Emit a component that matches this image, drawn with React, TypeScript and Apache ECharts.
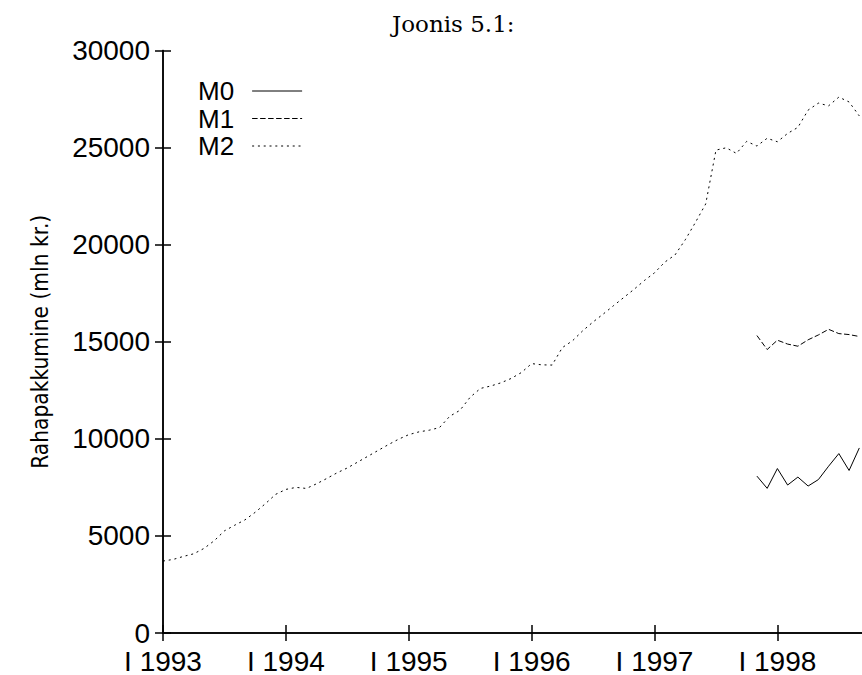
import React, { useEffect, useRef } from "react";
import * as echarts from "echarts";

// x: months since January 1993
const yearLabels = ["I 1993", "I 1994", "I 1995", "I 1996", "I 1997", "I 1998"];
const seriesNames = ["M0", "M1", "M2"];

const m2Start = 0;
const m2Values = [
  3705, 3790, 3945, 4080, 4355, 4750, 5260, 5550, 5825, 6215, 6660, 7140,
  7395, 7500, 7445, 7685, 7960, 8250, 8500, 8800, 9100, 9400, 9700, 9980,
  10215, 10360, 10445, 10580, 11160, 11470, 12145, 12595, 12720, 12885, 13110, 13415,
  13875, 13810, 13800, 14700, 15055, 15570, 16020, 16430, 16860, 17280, 17700, 18150,
  18550, 19100, 19470, 20250, 21150, 22100, 24870, 24990, 24700, 25320, 25080, 25480,
  25300, 25730, 26040, 26930, 27290, 27150, 27600, 27350, 26630,
];

const m1Start = 58;
const m1Values = [15320, 14600, 15080, 14880, 14770, 15100, 15350, 15640, 15420, 15370, 15270];

const m0Start = 58;
const m0Values = [8080, 7450, 8470, 7620, 8030, 7570, 7900, 8590, 9240, 8370, 9530];

const yTicks = [0, 5000, 10000, 15000, 20000, 25000, 30000];

const toPairs = (start: number, vals: number[]) => vals.map((v, i) => [start + i, v]);

const FONT = "Liberation Sans";
const NARROW = "'Liberation Sans Narrow', 'DejaVu Sans Condensed', 'Liberation Sans'";

export default function App() {
  const ref = useRef<HTMLDivElement>(null);
  useEffect(() => {
    if (!ref.current) return;
    const chart = echarts.init(ref.current, null, { renderer: "svg" });
    const axisLine = { show: true, lineStyle: { color: "#000", width: 1.5 } };
    const tick = { show: true, inside: true, length: 8, lineStyle: { color: "#000", width: 1.5 } };
    chart.setOption({
      animation: false,
      backgroundColor: "#fff",
      title: {
        text: "Joonis 5.1:",
        left: 387,
        top: 7,
        textStyle: { fontFamily: "DejaVu Serif", fontWeight: "normal", fontSize: 23, color: "#000" },
      },
      legend: {
        orient: "vertical",
        left: 193,
        top: 73,
        align: "right",
        itemWidth: 50,
        itemHeight: 14,
        itemGap: 1.5,
        selectedMode: false,
        data: seriesNames,
        itemStyle: { opacity: 0, borderWidth: 0 },
        lineStyle: { width: 1 },
        textStyle: { fontFamily: FONT, fontSize: 26, color: "#000", lineHeight: 26, padding: [0, 13, 0, 0] },
      },
      grid: { left: 163, right: 20.2, top: 50.5, bottom: 39, containLabel: false },
      xAxis: [
        {
          type: "value",
          position: "bottom",
          min: 0,
          max: 70,
          interval: 12,
          axisLine,
          axisTick: tick,
          splitLine: { show: false },
          axisLabel: {
            margin: 14,
            fontFamily: FONT,
            fontSize: 28,
            lineHeight: 28,
            color: "#000",
            formatter: (v: number) => (v % 12 === 0 ? yearLabels[v / 12] ?? "" : ""),
          },
        },
        {
          type: "value",
          position: "top",
          min: 0,
          max: 70,
          interval: 12,
          axisLine,
          axisTick: tick,
          splitLine: { show: false },
          axisLabel: { show: false },
        },
      ],
      yAxis: [
        {
          type: "value",
          min: yTicks[0],
          max: yTicks[yTicks.length - 1],
          interval: 5000,
          name: "Rahapakkumine (mln kr.)",
          nameLocation: "middle",
          nameGap: 112,
          nameTextStyle: { fontFamily: NARROW, fontSize: 22.5, color: "#000" },
          axisLine,
          axisTick: tick,
          splitLine: { show: false },
          axisLabel: {
            margin: 13,
            fontFamily: FONT,
            fontSize: 28,
            lineHeight: 16,
            color: "#000",
            formatter: (v: number) => String(v),
          },
        },
        {
          type: "value",
          position: "right",
          min: yTicks[0],
          max: yTicks[yTicks.length - 1],
          interval: 5000,
          axisLine,
          axisTick: tick,
          splitLine: { show: false },
          axisLabel: { show: false },
        },
      ],
      series: [
        {
          name: "M0",
          type: "line",
          data: toPairs(m0Start, m0Values),
          showSymbol: false,
          symbol: "none",
          lineStyle: { color: "#000", width: 1, type: "solid" },
          itemStyle: { color: "#000" },
        },
        {
          name: "M1",
          type: "line",
          data: toPairs(m1Start, m1Values),
          showSymbol: false,
          symbol: "none",
          lineStyle: { color: "#000", width: 1, type: [5.5, 2.5] },
          itemStyle: { color: "#000" },
        },
        {
          name: "M2",
          type: "line",
          data: toPairs(m2Start, m2Values),
          showSymbol: false,
          symbol: "none",
          lineStyle: { color: "#000", width: 1, type: [2, 3.8] },
          itemStyle: { color: "#000" },
        },
      ],
    });
    return () => chart.dispose();
  }, []);
  return (
    <div
      ref={ref}
      style={{ position: "fixed", left: 0, top: 0, width: 900, height: 675, background: "#fff" }}
    />
  );
}
